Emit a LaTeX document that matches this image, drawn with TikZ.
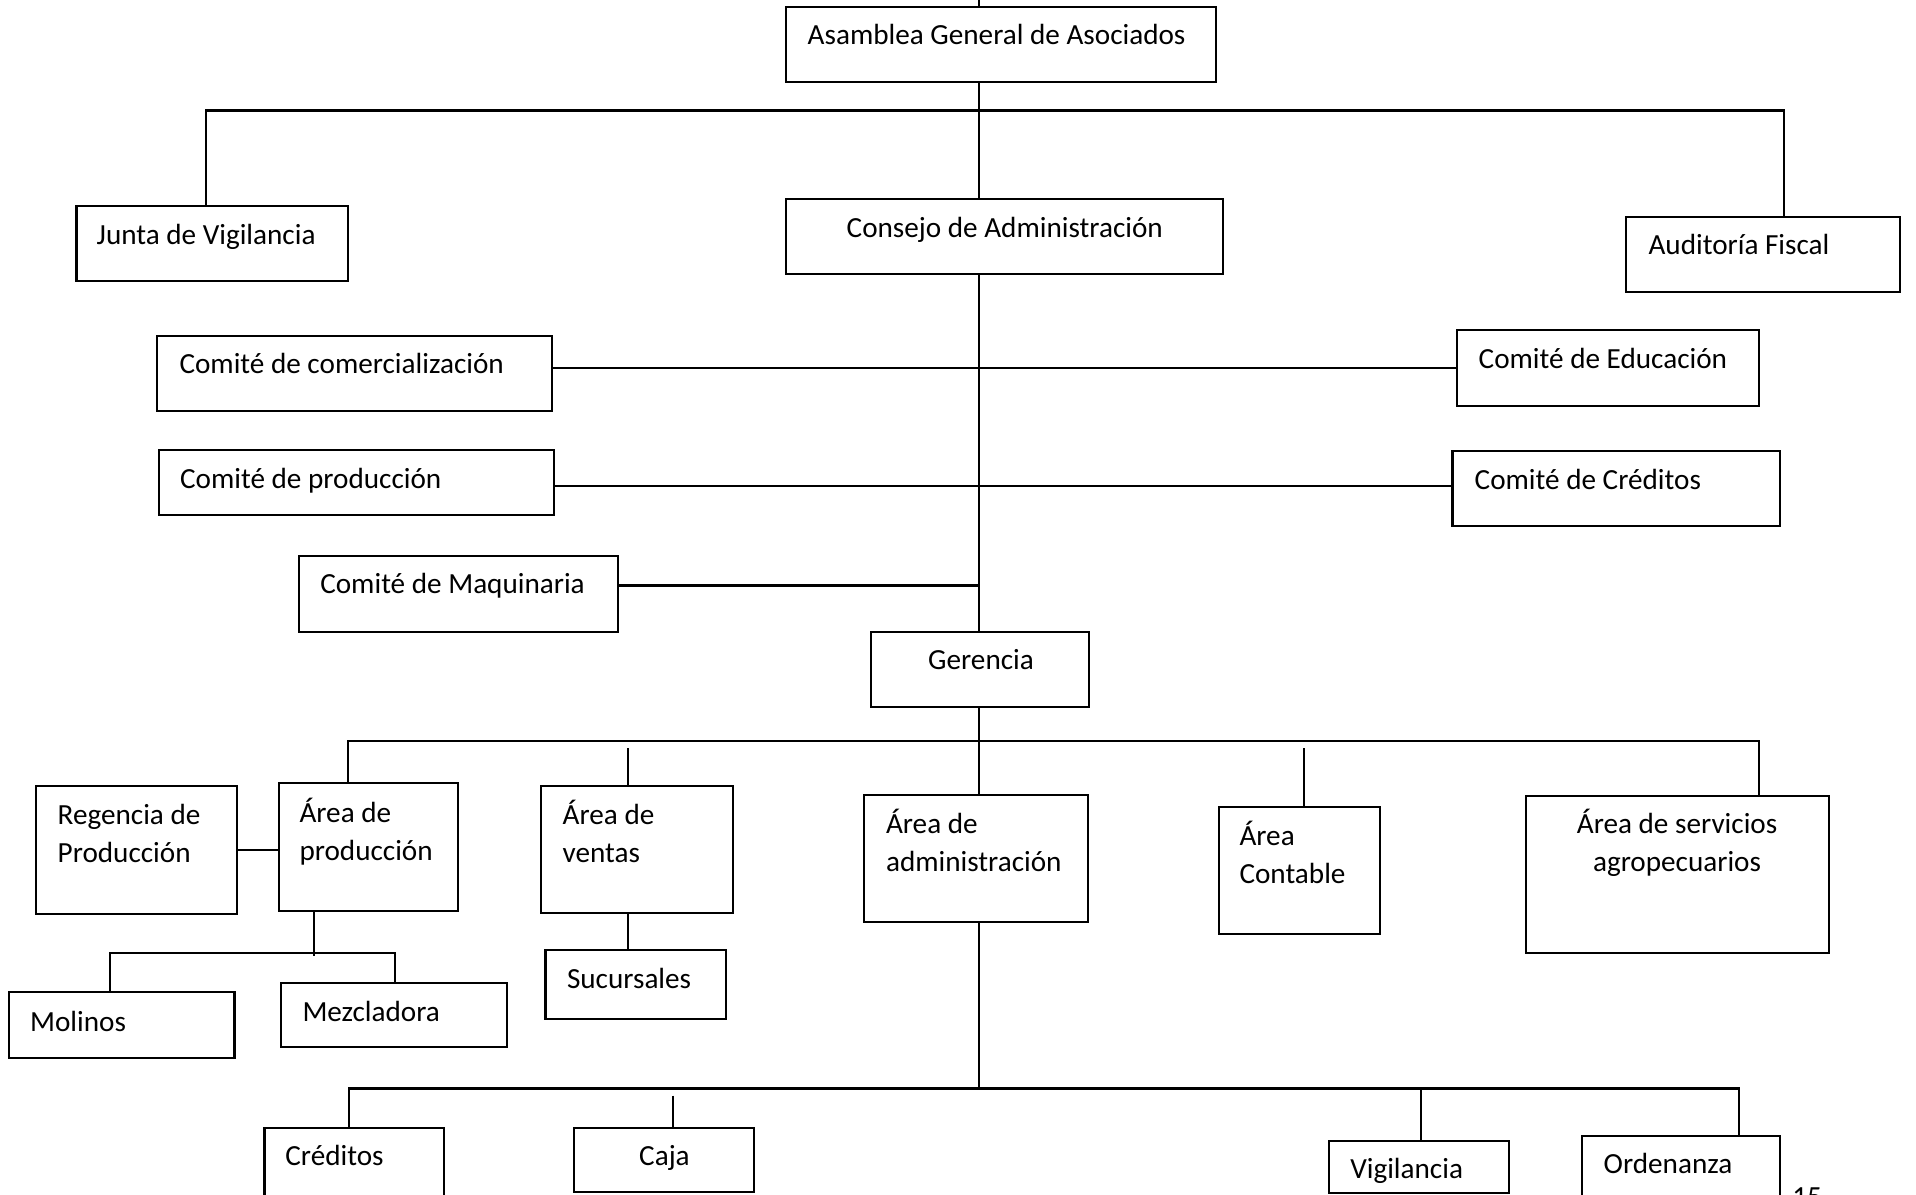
\documentclass[tikz,border=0pt]{standalone}
\usepackage{fontspec}
\setmainfont{Carlito}
\usetikzlibrary{fit}
\begin{document}
\begin{tikzpicture}[x=0.01cm,y=-0.01cm,
  box/.style={draw=black, line width=0.6pt, inner sep=0pt, fit={#1}},
  % multi-line labels are placed by the baseline of their last line
  txt/.style={anchor=base west, inner sep=0pt, align=left,
              font=\fontsize{8.3}{10.8}\selectfont},
  ctxt/.style={anchor=base, inner sep=0pt, align=center,
              font=\fontsize{8.3}{10.8}\selectfont},
  link/.style={draw=black, line width=0.8pt}]
\useasboundingbox[fill=white] (0,0) rectangle (1916,1195);

% ---------- boxes ----------
\node[box={(786,7.3) (1216,82.3)}]       (asam)    {};
\node[box={(76.5,205.7) (347.7,281)}]    (junta)   {};
\node[box={(786,199.3) (1223,274.3)}]    (consejo) {};
\node[box={(1626,216.7) (1900,292)}]     (audit)   {};
\node[box={(157.3,335.7) (552,411)}]     (comer)   {};
\node[box={(1457.4,330.3) (1758.6,405.7)}] (educ)  {};
\node[box={(159.2,449.7) (554,514.7)}]   (prodc)   {};
\node[box={(1452.5,451) (1780,526.3)}]   (credc)   {};
\node[box={(299.4,556.3) (617.7,631.7)}] (maq)     {};
\node[box={(870.6,632.3) (1088.8,707.3)}] (ger)    {};
\node[box={(36,786.3) (237,913.7)}]      (reg)     {};
\node[box={(278.6,783) (458,910.7)}]     (aprod)   {};
\node[box={(541.2,786.3) (733.4,913.3)}] (ventas)  {};
\node[box={(864.4,795) (1088.2,922.3)}]  (admin)   {};
\node[box={(1219.3,806.7) (1379.6,934)}] (contab)  {};
\node[box={(1526,795.7) (1829,952.7)}]   (serv)    {};
\node[box={(8.6,992.3) (234.5,1057.7)}]  (mol)     {};
\node[box={(281,982.7) (507,1047.3)}]    (mez)     {};
\node[box={(545.5,950) (726,1019)}]      (suc)     {};
\node[box={(264.5,1127.7) (443.9,1215)}] (cre)     {};
\node[box={(574.3,1127.7) (753.6,1192.3)}] (caja)  {};
\node[box={(1329.4,1141) (1508.8,1193.3)}] (vig)   {};
\node[box={(1582.3,1135.7) (1780,1215)}] (ord)     {};

% ---------- labels ----------
\node[txt] (asam-t)    at (807,45)     {Asamblea General de Asociados};
\node[txt] (junta-t)   at (96,245)     {Junta de Vigilancia};
\node[txt] (consejo-t) at (846,237.7)  {Consejo de Administración};
\node[txt] (audit-t)   at (1647.8,255) {Auditoría Fiscal};
\node[txt] (comer-t)   at (178.8,373.3) {Comité de comercialización};
\node[txt] (educ-t)    at (1478,368.3) {Comité de Educación};
\node[txt] (prodc-t)   at (179.4,488.3) {Comité de producción};
\node[txt] (credc-t)   at (1474,489.3) {Comité de Créditos};
\node[txt] (maq-t)     at (319.6,594)  {Comité de Maquinaria};
\node[txt] (ger-t)     at (927.5,670)  {Gerencia};
\node[txt] (reg-t)     at (57,862.7)   {Regencia de\\Producción};
\node[txt] (aprod-t)   at (298.8,860)  {Área de\\producción};
\node[txt] (ventas-t)  at (562,862.3)  {Área de\\ventas};
\node[txt] (admin-t)   at (885.3,871.7) {Área de\\administración};
\node[txt] (contab-t)  at (1238.8,883.3) {Área\\Contable};
\node[ctxt] (serv-t)   at (1677,871.7) {Área de servicios\\agropecuarios};
\node[txt] (mol-t)     at (29.4,1031.7) {Molinos};
\node[txt] (mez-t)     at (301.8,1021.7) {Mezcladora};
\node[txt] (suc-t)     at (566.3,988.3) {Sucursales};
\node[txt] (cre-t)     at (284.7,1165) {Créditos};
\node[txt] (caja-t)    at (638.5,1165) {Caja};
\node[txt] (vig-t)     at (1349.6,1178.3) {Vigilancia};
\node[txt] (ord-t)     at (1603,1173.3) {Ordenanza};
\node[txt] (page-t)    at (1791.6,1206) {15};

% ---------- junction points ----------
\coordinate (tx)   at (979,0);
\coordinate (bA-l) at (206,110.3);
\coordinate (bA-r) at (1784,110.3);
\coordinate (l2)   at (979,486);
\coordinate (l3)   at (979,585.7);
\coordinate (bB-l) at (348,741);
\coordinate (bB-r) at (1759,741);
\coordinate (sv)   at (628,748);
\coordinate (sc)   at (1304,748);
\coordinate (bM)   at (314,956);
\coordinate (bM-l) at (110,953);
\coordinate (bM-r) at (395,953);
\coordinate (bC-l) at (349,1088.3);
\coordinate (bC-r) at (1739,1088.3);
\coordinate (sk)   at (673,1095.7);
\coordinate (sg)   at (1421,1088.3);

% ---------- connectors ----------
\draw[link] (asam.north -| tx) -- (tx);
\draw[link] (asam.south -| tx) -- (consejo.north -| tx);
\draw[link] (junta.north -| bA-l) -- (bA-l) -- (bA-r) -- (audit.north -| bA-r);
\draw[link] (consejo.south -| tx) -- (ger.north -| tx);
\draw[link] (comer.east |- educ.west) -- (educ.west);
\draw[link] (prodc.east |- l2) -- (credc.west |- l2);
\draw[link] (maq.east |- l3) -- (l3);
\draw[link] (ger.south -| tx) -- (admin.north -| tx);
\draw[link] (aprod.north -| bB-l) -- (bB-l) -- (bB-r) -- (serv.north -| bB-r);
\draw[link] (sv) -- (ventas.north -| sv);
\draw[link] (sc) -- (contab.north -| sc);
\draw[link] (reg.east) -- (aprod.west |- reg.east);
\draw[link] (aprod.south -| bM) -- (bM);
\draw[link] (mol.north -| bM-l) -- (bM-l) -- (bM-r) -- (mez.north -| bM-r);
\draw[link] (ventas.south -| sv) -- (suc.north -| sv);
\draw[link] (admin.south -| tx) -- (bC-l -| tx);
\draw[link] (cre.north -| bC-l) -- (bC-l) -- (bC-r) -- (ord.north -| bC-r);
\draw[link] (sk) -- (caja.north -| sk);
\draw[link] (sg) -- (vig.north -| sg);
\end{tikzpicture}
\end{document}
